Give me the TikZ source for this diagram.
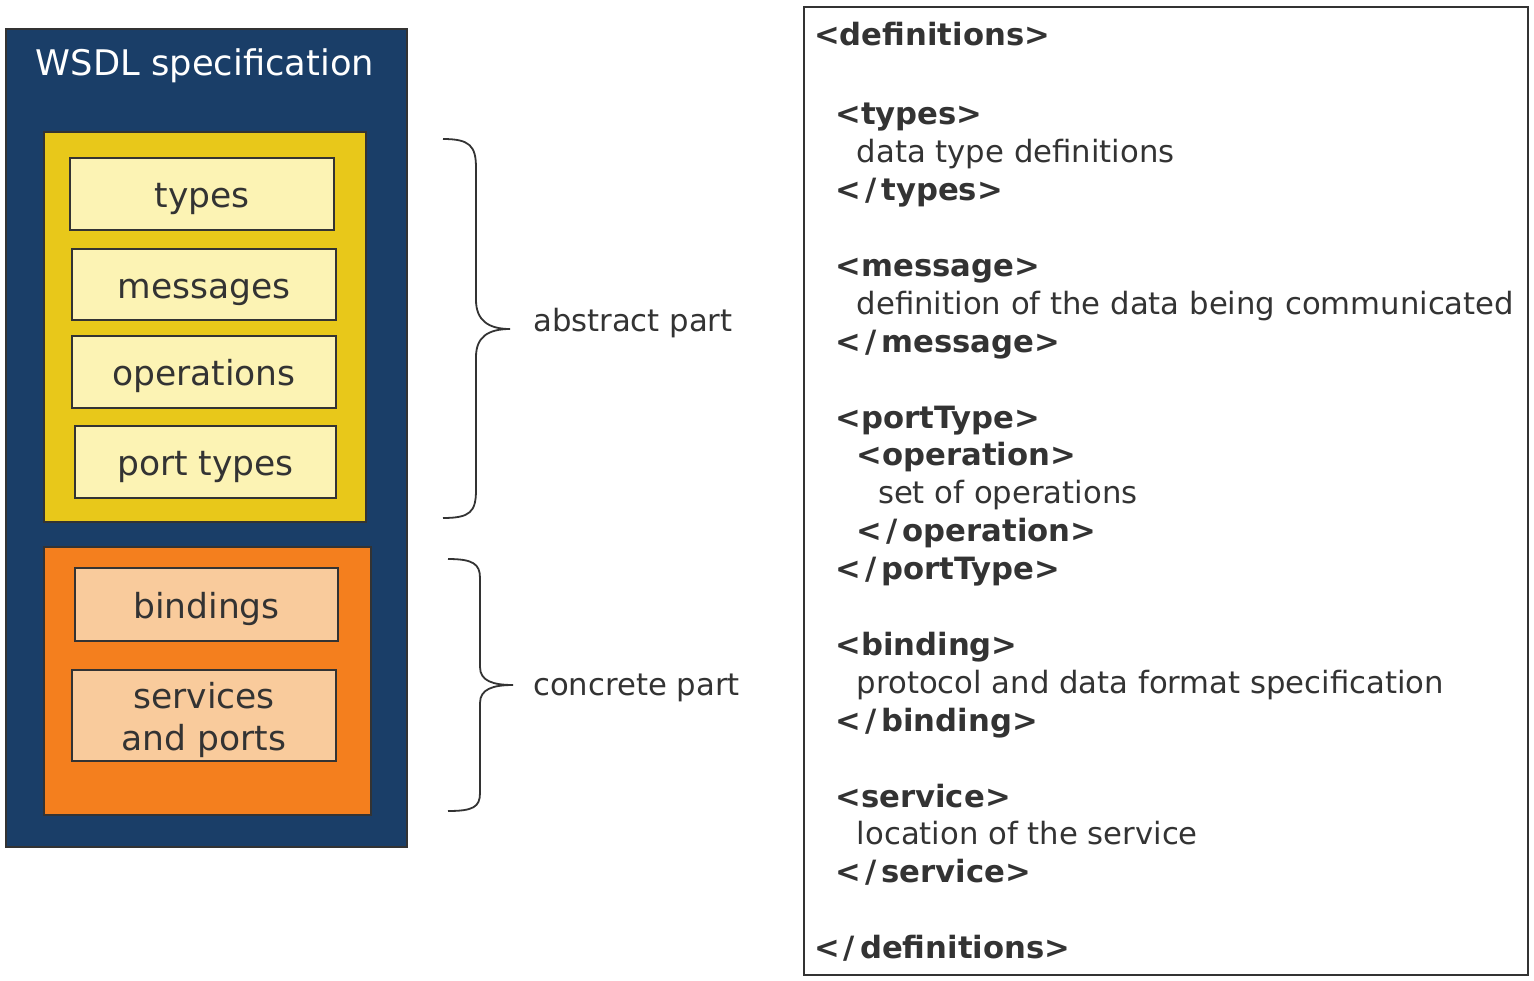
\documentclass[tikz,border=0pt]{standalone}
\usepackage{fontspec}
\setmainfont{DejaVu Sans}
\usetikzlibrary{arrows, shapes, positioning}

\definecolor{specblue}{HTML}{1A3E68}
\definecolor{abstractyellow}{HTML}{E8C81A}
\definecolor{abstractlight}{HTML}{FCF3B4}
\definecolor{concreteorange}{HTML}{F47F1E}
\definecolor{concretelight}{HTML}{F9CB9C}
\definecolor{inkgray}{HTML}{333333}

% closing xml tag, with the wider slash of the original
\newcommand{\closetag}[1]{<\kern4pt/\kern5pt#1>}

\tikzset{
    groupbox/.style={draw=inkgray, line width=2pt, inner sep=0pt},
    partbox/.style={draw=inkgray, line width=2pt, text=inkgray, inner sep=0pt,
      font=\fontsize{34.5}{42}\selectfont, minimum width=264pt, minimum height=72pt,
      text height=27pt, text depth=0pt},
    brace/.style={draw=inkgray, line width=1.8pt},
    sidelabel/.style={anchor=base west, text=inkgray, inner sep=0pt,
      font=\fontsize{30.7}{36}\selectfont},
    xmlline/.style={anchor=base west, text=inkgray, inner sep=0pt,
      font=\fontsize{30.7}{36}\selectfont}
}

\begin{document}
\begin{tikzpicture}[x=1pt, y=-1pt]
    \useasboundingbox (0,0) rectangle (1534,980);

    % nodes %
      \node[groupbox, fill=specblue, minimum width=401pt, minimum height=818pt] (spec) at (206.5,438) {};
      \node[anchor=base, text=white, font=\fontsize{35.3}{42}\selectfont] (title) at (205,75) {WSDL specification};

      \node[groupbox, fill=abstractyellow, minimum width=322pt, minimum height=390pt] (abstract) at (205,327) {};
      \node[partbox, fill=abstractlight] (types) at (202,194) {types};
      \node[partbox, fill=abstractlight, minimum height=71pt] (messages) at (204,284.5) {messages};
      \node[partbox, fill=abstractlight] (operations) at (204,372) {operations};
      \node[partbox, fill=abstractlight, minimum width=261pt] (porttypes) at (205.5,462) {port types};

      \node[groupbox, fill=concreteorange, minimum width=327pt, minimum height=268pt] (concrete) at (207.5,681) {};
      \node[partbox, fill=concretelight, minimum width=263pt, minimum height=73pt] (bindings) at (206.5,604.5) {bindings};
      \node[partbox, fill=concretelight, minimum height=91pt, align=center, text height=69pt, text depth=0pt] (services) at (204,715.5) {services\\and ports};

      \coordinate (abtop) at (443,139);
      \coordinate (abtip) at (510,329);
      \coordinate (abbot) at (443,518);
      \node[sidelabel] (abslabel) at (533,331) {abstract part};

      \coordinate (cotop) at (448,559);
      \coordinate (cotip) at (513,685);
      \coordinate (cobot) at (448,811);
      \node[sidelabel] (conlabel) at (533,695) {concrete part};

      \node[groupbox, minimum width=724pt, minimum height=968pt] (xmlbox) at (1166,491) {};
      \foreach \n/\lv/\txt in {0/0/{\bfseries <definitions>},
          2/1/{\bfseries <types>}, 3/2/{data type definitions}, 4/1/{\bfseries\closetag{types}},
          6/1/{\bfseries <message>}, 7/2/{definition of the data being communicated}, 8/1/{\bfseries\closetag{message}},
          10/1/{\bfseries <portType>}, 11/2/{\bfseries <operation>}, 12/3/{set of operations},
          13/2/{\bfseries\closetag{operation}}, 14/1/{\bfseries\closetag{portType}},
          16/1/{\bfseries <binding>}, 17/2/{protocol and data format specification}, 18/1/{\bfseries\closetag{binding}},
          20/1/{\bfseries <service>}, 21/2/{location of the service}, 22/1/{\bfseries\closetag{service}},
          24/0/{\bfseries\closetag{definitions}}}
        \node[xmlline] (line\n) at ({814+21.3*\lv},{45+37.9*\n+4*min(\n,1)}) {\txt};

      % edges %
      \draw[brace] (abtop) .. controls +(27,0) and +(0,-22) .. (476,168) -- (476,300)
        .. controls +(0,20) and +(-22,0) .. (abtip)
        .. controls +(-22,0) and +(0,-20) .. (476,357) -- (476,490)
        .. controls +(0,22) and +(27,0) .. (abbot);
      \draw[brace] (cotop) .. controls +(25,0) and +(0,-14) .. (480,578) -- (480,667)
        .. controls +(0,14) and +(-20,0) .. (cotip)
        .. controls +(-20,0) and +(0,-14) .. (480,703) -- (480,793)
        .. controls +(0,14) and +(25,0) .. (cobot);
\end{tikzpicture}
\end{document}
